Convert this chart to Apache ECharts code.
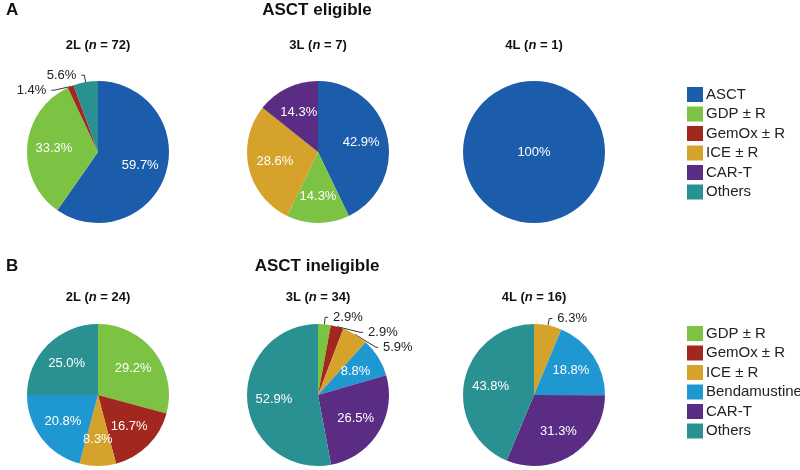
<!DOCTYPE html>
<html>
<head>
<meta charset="utf-8">
<script src="https://cdn.jsdelivr.net/npm/echarts@6/dist/echarts.min.js"></script>
<style>
  html, body { margin: 0; padding: 0; background: #fff; }
  #chart { width: 800px; height: 470px; }
</style>
</head>
<body>
<div id="chart"></div>
<script>
// treatment categories per panel
var categoriesA = ['ASCT', 'GDP ± R', 'GemOx ± R', 'ICE ± R', 'CAR-T', 'Others'];
var categoriesB = ['GDP ± R', 'GemOx ± R', 'ICE ± R', 'Bendamustine', 'CAR-T', 'Others'];

// percentages (0 = no slice)
var eligible2L = [59.7, 33.3, 1.4, 0, 0, 5.6];
var eligible3L = [42.9, 14.3, 0, 28.6, 14.3, 0];
var eligible4L = [100, 0, 0, 0, 0, 0];
var ineligible2L = [29.2, 16.7, 8.3, 20.8, 0, 25.0];
var ineligible3L = [2.9, 2.9, 5.9, 8.8, 26.5, 52.9];
var ineligible4L = [0, 0, 6.3, 18.8, 31.3, 43.8];

var pieTitlesA = [['2L', '72'], ['3L', '7'], ['4L', '1']];
var pieTitlesB = [['2L', '24'], ['3L', '34'], ['4L', '16']];

var colors = {
  'ASCT': '#1b5dab',
  'GDP ± R': '#7cc243',
  'GemOx ± R': '#a2281f',
  'ICE ± R': '#d5a22b',
  'Bendamustine': '#1f98d1',
  'CAR-T': '#5a2c84',
  'Others': '#2a9192'
};

var FONT = '"Liberation Sans", Arial, sans-serif';
var colX = [98, 318, 534];
var rowY = [152, 395];
var R = 71;

function fmt(v) {
  return v === 100 ? '100%' : v.toFixed(1) + '%';
}

function makePie(cats, vals, cx, cy) {
  var data = [];
  for (var i = 0; i < cats.length; i++) {
    if (vals[i] <= 0) continue;
    var item = { name: cats[i], value: vals[i], itemStyle: { color: colors[cats[i]] } };
    if (vals[i] === 100) {
      item.label = { position: 'center' };
    } else if (vals[i] < 7) {
      item.label = { position: 'outside', color: '#222' };
      item.labelLine = { show: true };
    }
    data.push(item);
  }
  return {
    type: 'pie',
    center: [cx, cy],
    radius: R,
    startAngle: 90,
    clockwise: true,
    animation: false,
    avoidLabelOverlap: true,
    itemStyle: { borderWidth: 0 },
    label: {
      show: true,
      position: 'inside',
      color: '#fff',
      fontSize: 13,
      fontFamily: FONT,
      formatter: function (p) { return fmt(p.value); }
    },
    labelLine: {
      show: false,
      length: 7,
      length2: 3,
      lineStyle: { color: '#333', width: 1 }
    },
    // push inside labels a bit further out than the mid radius
    labelLayout: function (p) {
      var v = data[p.dataIndex].value;
      if (v === 100 || v < 7) return {};
      var r = p.labelRect;
      var lx = r.x + r.width / 2, ly = r.y + r.height / 2;
      return {
        x: cx + (lx - cx) * 1.15,
        y: cy + (ly - cy) * 1.15,
        align: 'center',
        verticalAlign: 'middle'
      };
    },
    emphasis: { disabled: true },
    data: data
  };
}

var series = [
  makePie(categoriesA, eligible2L, colX[0], rowY[0]),
  makePie(categoriesA, eligible3L, colX[1], rowY[0]),
  makePie(categoriesA, eligible4L, colX[2], rowY[0]),
  makePie(categoriesB, ineligible2L, colX[0], rowY[1]),
  makePie(categoriesB, ineligible3L, colX[1], rowY[1]),
  makePie(categoriesB, ineligible4L, colX[2], rowY[1])
];

var graphics = [];
function addText(txt, x, y, size, align) {
  graphics.push({
    type: 'text',
    style: {
      text: txt, x: x, y: y,
      textAlign: align, textVerticalAlign: 'middle',
      font: 'bold ' + size + 'px ' + FONT, fill: '#111',
      rich: {
        b: { font: 'bold ' + size + 'px ' + FONT, fill: '#111' },
        i: { font: 'italic bold ' + size + 'px ' + FONT, fill: '#111' }
      }
    }
  });
}
addText('A', 6, 10, 17, 'left');
addText('ASCT eligible', 317, 10, 17, 'center');
addText('B', 6, 266, 17, 'left');
addText('ASCT ineligible', 317, 266, 17, 'center');
for (var k = 0; k < 3; k++) {
  addText('{b|' + pieTitlesA[k][0] + ' (}{i|n}{b| = ' + pieTitlesA[k][1] + ')}', colX[k], 45, 13, 'center');
  addText('{b|' + pieTitlesB[k][0] + ' (}{i|n}{b| = ' + pieTitlesB[k][1] + ')}', colX[k], 297, 13, 'center');
}

function makeLegend(names, top) {
  return {
    orient: 'vertical',
    left: 682,
    top: top,
    itemWidth: 16,
    itemHeight: 15,
    itemGap: 4.5,
    icon: 'rect',
    selectedMode: false,
    textStyle: { fontSize: 15, fontFamily: FONT, color: '#222', padding: [0, 0, 0, -2] },
    data: names
  };
}

var chart = echarts.init(document.getElementById('chart'));
chart.setOption({
  backgroundColor: '#fff',
  animation: false,
  legend: [makeLegend(categoriesA, 82), makeLegend(categoriesB, 321)],
  graphic: graphics,
  series: series
});
</script>
</body>
</html>
